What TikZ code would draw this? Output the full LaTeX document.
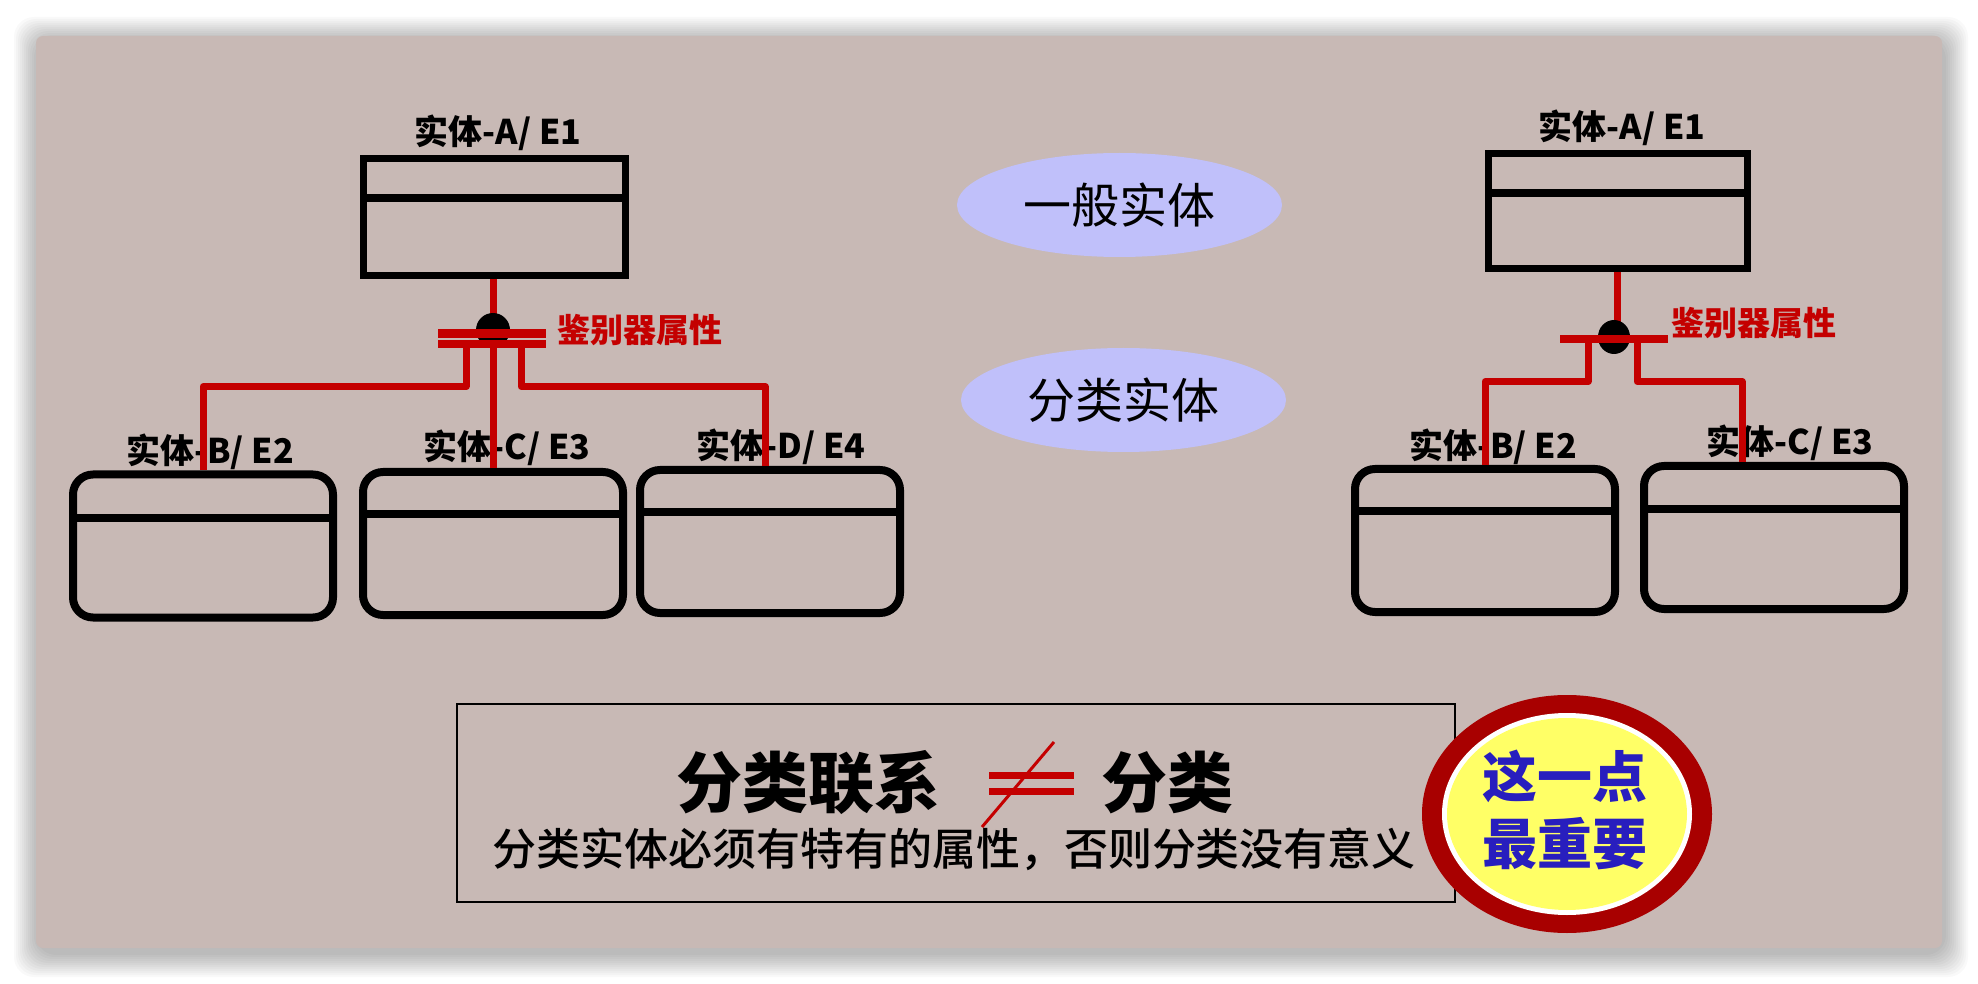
\documentclass[tikz,border=0pt]{standalone}
\usepackage{fontspec}
\setmainfont{Noto Sans CJK SC}
\newfontfamily\heavyfont{Noto Sans CJK SC Black}
\newfontfamily\mediumfont{Noto Sans CJK SC Medium}
\usetikzlibrary{shapes.geometric,positioning}

\definecolor{discred}{RGB}{196,0,0}
\definecolor{panelbg}{RGB}{200,185,181}
\definecolor{lilac}{RGB}{192,192,250}
\definecolor{ringred}{RGB}{168,0,0}
\definecolor{badgeyellow}{RGB}{255,255,102}
\definecolor{badgeblue}{RGB}{40,30,190}

\tikzset{
  entity/.style={draw, line width=3.5pt, inner sep=0pt, outer sep=0pt,
    minimum width=131pt, minimum height=58.5pt},
  subentity/.style={draw, line width=4pt, rounded corners=10pt, inner sep=0pt,
    outer sep=0pt, minimum width=130pt, minimum height=71.5pt},
  entlabel/.style={font=\fontsize{17}{17}\selectfont\bfseries, inner sep=0pt},
  disclabel/.style={text=discred, font=\fontsize{16.5}{16.5}\selectfont\bfseries, inner sep=0pt},
  redline/.style={discred, line width=3.5pt, line join=round},
  divline/.style={line width=4pt},
  kind/.style={ellipse, fill=lilac, inner sep=0pt, outer sep=0pt,
    minimum width=162.5pt, minimum height=52pt, font=\fontsize{24}{24}\selectfont},
  blob/.style={ellipse, inner sep=0pt, outer sep=0pt}
}

\begin{document}
\begin{tikzpicture}[x=0.5pt, y=-0.5pt]
  \useasboundingbox (0,0) rectangle (1978,984);
  \fill[white] (0,0) rectangle (1978,984);
  % soft shadow and the panel
  \foreach \s in {1,...,12}
    \fill[black, opacity=0.022, rounded corners=10pt]
      (36-2*\s+2,36-2*\s+5) rectangle (1942+2*\s+2,948+2*\s+5);
  \fill[panelbg, rounded corners=3.5pt] (36,36) rectangle (1942,948);

  % the two kinds of entity
  \node[kind] (general) at (1119.5,205) {一般实体};
  \node[kind] (category) at (1123.5,400) {分类实体};

  % left: one general entity, three categories
  \node[entity] (lA) at (494,217) {};
  \node[subentity] (lB) at (203,546) {};
  \node[subentity] (lC) at (493,543.5) {};
  \node[subentity] (lD) at (770,541.5) {};
  \draw[divline] ([yshift=-19.75pt]lA.north west) -- ([yshift=-19.75pt]lA.north east);
  \foreach \n/\d in {lB/21.5, lC/21, lD/21}
    \draw[divline] ([yshift=-\d pt]\n.north west) -- ([yshift=-\d pt]\n.north east);

  \node[entlabel] (lAname) at (498,133) {实体-A/ E1};
  \node[entlabel] (lBname) at (210,452) {实体-B/ E2};
  \node[entlabel] (lCname) at (507,448) {实体-C/ E3};
  \node[entlabel] (lDname) at (781,447) {实体-D/ E4};
  \node[disclabel] (ldisc) at (639.5,330) {鉴别器属性};

  \coordinate (lstem) at ([yshift=-1.75pt]lA.south);
  \coordinate (lBtop) at ([yshift=2pt]lB.north);
  \coordinate (lCtop) at ([yshift=2pt]lC.north);
  \coordinate (lDtop) at ([xshift=-2.5pt, yshift=2pt]lD.north);
  \coordinate (lbump) at (493,330);
  \coordinate (lbar1w) at (438,334);
  \coordinate (lbar1e) at (546,334);
  \coordinate (lbar2w) at (438,344.5);
  \coordinate (lbar2e) at (546,344.5);
  \coordinate (lforkL) at (466,386.5);
  \coordinate (lforkR) at (521,386.5);
  \draw[redline] (lstem -| lCtop) -- (lCtop);
  \draw[redline] (lforkL |- lbar2w) -- (lforkL) -| (lBtop);
  \draw[redline] (lforkR |- lbar2w) -- (lforkR) -| (lDtop);
  \fill (lbump) ellipse [x radius=8.5pt, y radius=8.5pt];
  \draw[redline, line width=4.5pt] (lbar1w) -- (lbar1e);
  \draw[redline, line width=4pt] (lbar2w) -- (lbar2e);

  % right: one general entity, two categories
  \node[entity, minimum width=129.5pt, minimum height=57.5pt] (rA) at (1617.5,211.5) {};
  \node[subentity] (rB) at (1485,540.5) {};
  \node[subentity] (rC) at (1774,537.5) {};
  \draw[divline] ([yshift=-19.5pt]rA.north west) -- ([yshift=-19.5pt]rA.north east);
  \foreach \n/\d in {rB/21, rC/21.5}
    \draw[divline] ([yshift=-\d pt]\n.north west) -- ([yshift=-\d pt]\n.north east);

  \node[entlabel] (rAname) at (1622,128) {实体-A/ E1};
  \node[entlabel] (rBname) at (1493,447) {实体-B/ E2};
  \node[entlabel] (rCname) at (1790,443) {实体-C/ E3};
  \node[disclabel] (rdisc) at (1754,323) {鉴别器属性};

  \coordinate (rstem) at ([yshift=-1.75pt]rA.south);
  \coordinate (rBtop) at ([yshift=2pt]rB.north);
  \coordinate (rCtop) at ([xshift=-16pt, yshift=2pt]rC.north);
  \coordinate (rbump) at (1614,337);
  \coordinate (rbarw) at (1560,339);
  \coordinate (rbare) at (1668,339);
  \coordinate (rforkL) at (1588,381.5);
  \coordinate (rforkR) at (1637,381.5);
  \draw[redline] (rstem) -- (rstem |- rbump);
  \draw[redline] (rforkL |- rbarw) -- (rforkL) -| (rBtop);
  \draw[redline] (rforkR |- rbarw) -- (rforkR) -| (rCtop);
  \fill (rbump) ellipse [x radius=8pt, y radius=8.5pt];
  \draw[redline, line width=4pt] (rbarw) -- (rbare);

  % the note at the bottom
  \node[draw, line width=1.2pt, inner sep=0pt, minimum width=499pt, minimum height=99pt] (note) at (956,803) {};
  \node[font=\fontsize{33}{33}\selectfont\heavyfont, inner sep=0pt] (linkword) at (808,783) {分类联系};
  \node[font=\fontsize{33}{33}\selectfont\heavyfont, inner sep=0pt] (classword) at (1167,783) {分类};
  \draw[discred, line width=3.6pt] (989,775.3) -- (1074,775.3);
  \draw[discred, line width=3.6pt] (989,791.7) -- (1074,791.7);
  \draw[discred, line width=1.5pt] (982,827) -- (1054,742);
  \node[font=\fontsize{22}{22}\selectfont\mediumfont, inner sep=0pt] (rule) at (954,849)
    {分类实体必须有特有的属性，否则分类没有意义};

  % badge
  \node[blob, fill=ringred, minimum width=145pt, minimum height=119pt] (badgering) at (1567,814) {};
  \node[blob, fill=white, minimum width=125pt, minimum height=101pt] (badgegap) at (badgering) {};
  \node[blob, fill=badgeyellow, minimum width=120pt, minimum height=96pt] (badge) at (badgering) {};
  \node[align=center, text=badgeblue, inner sep=0pt,
    font=\fontsize{27.5}{33.5}\selectfont\bfseries] (badgetext) at (1565,810) {这一点\\最重要};
\end{tikzpicture}
\end{document}
